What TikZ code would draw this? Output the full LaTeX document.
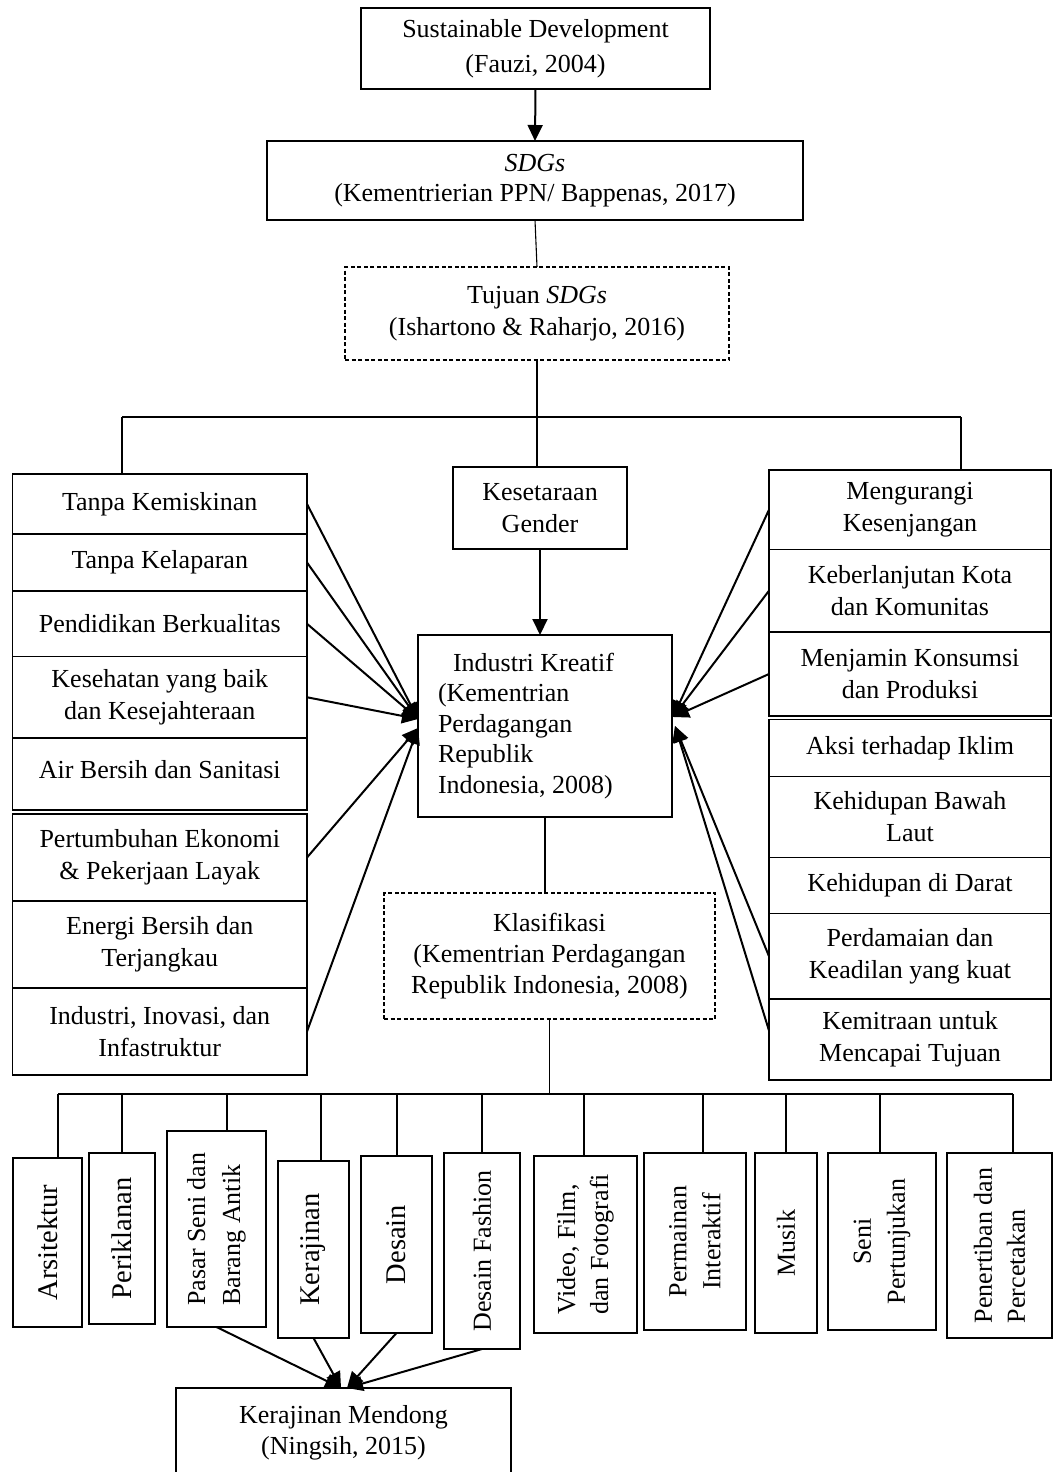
\documentclass[tikz,border=0pt]{standalone}
\usepackage{fontspec}
\setmainfont{Liberation Serif}
\usetikzlibrary{arrows.meta,calc}
\begin{document}
\begin{tikzpicture}[x=1pt,y=-1pt,
  box/.style={draw, line width=1.1pt, inner sep=0pt, outer sep=0pt, align=center,
    font=\fontsize{26}{32}\selectfont},
  dbox/.style={box, dash pattern=on 4pt off 2.5pt},
  vbox/.style={box, rotate=90},
  big/.style={font=\fontsize{28.5}{34}\selectfont},
  conn/.style={line width=1.1pt},
  arr/.style={line width=2pt, -{Triangle[length=16pt,width=15pt]}}]
\useasboundingbox (0,0) rectangle (1053,1472);
\fill[white] (0,0) rectangle (1053,1472);

% top chain
\node[box, minimum width=349pt, minimum height=81pt, font=\fontsize{26}{35}\selectfont] (sd) at (535.5,48.5) {Sustainable Development\\(Fauzi, 2004)};
\node[box, minimum width=536pt, minimum height=79pt, font=\fontsize{26}{30}\selectfont] (sdgs) at (535,180.5) {\textit{SDGs}\\(Kementrierian PPN/ Bappenas, 2017)};
\node[dbox, minimum width=384pt, minimum height=93pt] (tj) at (537,313.5) {Tujuan \textit{SDGs}\\(Ishartono \& Raharjo, 2016)};
\node[box, minimum width=174pt, minimum height=82pt] (kg) at (540,508) {Kesetaraan\\Gender};
\node[box, minimum width=254pt, minimum height=182pt, text width=214pt, inner xsep=20pt, align=flush left, font=\fontsize{26}{30.6}\selectfont] (ik) at (545,726) {\hspace*{15pt}Industri Kreatif\\(Kementrian\\Perdagangan\\Republik\\Indonesia, 2008)};
\node[dbox, minimum width=331pt, minimum height=126pt, font=\fontsize{26}{31}\selectfont] (kl) at (549.5,956) {Klasifikasi\\(Kementrian Perdagangan\\Republik Indonesia, 2008)};

% left column
\node[box, minimum width=294.5pt, minimum height=60pt] (l1) at (159.75,504) {Tanpa Kemiskinan};
\node[box, minimum width=294.5pt, minimum height=57pt] (l2) at (159.75,562.5) {Tanpa Kelaparan};
\node[box, minimum width=294.5pt, minimum height=65.5pt] (l3) at (159.75,623.75) {Pendidikan Berkualitas};
\node[box, minimum width=294.5pt, minimum height=81.5pt] (l4) at (159.75,697.25) {Kesehatan yang baik\\dan Kesejahteraan};
\node[box, minimum width=294.5pt, minimum height=72pt] (l5) at (159.75,774) {\raisebox{9pt}{Air Bersih dan Sanitasi}};
\node[box, minimum width=294.5pt, minimum height=87pt] (l6) at (159.75,857.5) {Pertumbuhan Ekonomi\\\& Pekerjaan Layak};
\node[box, minimum width=294.5pt, minimum height=87pt] (l7) at (159.75,944.5) {Energi Bersih dan\\Terjangkau};
\node[box, minimum width=294.5pt, minimum height=87pt] (l8) at (159.75,1031.5) {Industri, Inovasi, dan\\Infastruktur};

% right column
\node[box, minimum width=282pt, minimum height=79.5pt] (r1) at (910,509.7) {Mengurangi\\Kesenjangan};
\node[box, minimum width=282pt, minimum height=82.6pt] (r2) at (910,590.7) {Keberlanjutan Kota\\dan Komunitas};
\node[box, minimum width=282pt, minimum height=84pt] (r3) at (910,674) {Menjamin Konsumsi\\dan Produksi};
\node[box, minimum width=282pt, minimum height=56.5pt] (r4) at (910,748) {Aksi terhadap Iklim};
\node[box, minimum width=282pt, minimum height=81pt] (r5) at (910,816.9) {Kehidupan Bawah\\Laut};
\node[box, minimum width=282pt, minimum height=56pt] (r6) at (910,885.5) {Kehidupan di Darat};
\node[box, minimum width=282pt, minimum height=85.5pt] (r7) at (910,956.3) {Perdamaian dan\\Keadilan yang kuat};
\node[box, minimum width=282pt, minimum height=81pt] (r8) at (910,1039.5) {Kemitraan untuk\\Mencapai Tujuan};

% bottom vertical boxes (minimum width = visual height)
\node[vbox, big, minimum width=169pt, minimum height=69pt] (b1) at (47.5,1242.5) {Arsitektur};
\node[vbox, big, minimum width=171pt, minimum height=66pt] (b2) at (122,1238.5) {Periklanan};
\node[vbox, align=left, minimum width=196pt, minimum height=99pt, font=\fontsize{26}{35}\selectfont] (b3) at (216.5,1229) {Pasar Seni dan\\Barang Antik};
\node[vbox, big, minimum width=177pt, minimum height=71pt] (b4) at (313.5,1249.5) {Kerajinan};
\node[vbox, big, minimum width=177pt, minimum height=71pt] (b5) at (396.5,1244.5) {Desain};
\node[vbox, minimum width=196pt, minimum height=76pt] (b6) at (482,1251) {Desain Fashion};
\node[vbox, align=left, minimum width=177pt, minimum height=103pt, font=\fontsize{26}{33}\selectfont] (b7) at (585.5,1244.5) {Video, Film,\\dan Fotografi};
\node[vbox, minimum width=177pt, minimum height=102pt, font=\fontsize{26}{34}\selectfont] (b8) at (695,1241.5) {Permainan\\Interaktif};
\node[vbox, minimum width=180pt, minimum height=62pt] (b9) at (786,1243) {Musik};
\node[vbox, minimum width=177pt, minimum height=108pt, font=\fontsize{26}{34}\selectfont] (b10) at (882,1241.5) {Seni\\Pertunjukan};
\node[vbox, align=left, minimum width=185pt, minimum height=105pt, font=\fontsize{26}{33}\selectfont] (b11) at (999.5,1245.5) {Penertiban dan\\Percetakan};

\node[box, minimum width=335pt, minimum height=89pt, font=\fontsize{26}{31}\selectfont] (md) at (343.5,1432.5) {Kerajinan Mendong\\(Ningsih, 2015)};

% coordinates
\coordinate (tbL) at (122,417);
\coordinate (tbR) at (961,417);
\coordinate (tipLa) at (418,719);
\coordinate (tipLb) at (418,728);
\coordinate (tipRa) at (673,717);
\coordinate (tipRb) at (675,726);
\coordinate (r8s) at (769,1030.6);
\coordinate (tipBa) at (341,1388);
\coordinate (tipBb) at (347,1388);
\foreach \n/\x in {1/58,2/122,3/227,4/321,5/397,6/482,7/584,8/703,9/786,10/880,11/1013}
  \coordinate (bb\n) at (\x,1094);

% top connectors
\draw[arr] (sd.south) -- (sdgs.north);
\draw[conn] (sdgs.south) -- (tj.north);
\draw[conn] (tj.south) -- (tj.south |- kg.north);
\draw[conn] (tbL) -- (tbR);
\draw[conn] (tbL) -- (tbL |- l1.north);
\draw[conn] (tbR) -- (tbR |- r1.north);
\draw[arr] (kg.south) -- (kg.south |- ik.north);
\draw[conn] (ik.south) -- (ik.south |- kl.north);

% left arrows
\foreach \b in {l1,l2,l3,l4} \draw[arr] (\b.east) -- (tipLa);
\foreach \b in {l6,l8} \draw[arr] (\b.east) -- (tipLb);
% right arrows
\foreach \b in {r1,r2,r3} \draw[arr] (\b.west) -- (tipRa);
\draw[arr] (r7.west) -- (tipRb);
\draw[arr] (r8s) -- (tipRb);

% bottom bus
\draw[conn] (kl.south) -- (kl.south |- bb1);
\draw[conn] (bb1) -- (bb11);
\foreach \n in {1,...,11} \draw[conn] (bb\n) -- (bb\n |- b\n.east);

% bottom arrows
\draw[arr] (b3.west) -- (tipBa);
\draw[arr] (b4.west) -- (tipBa);
\draw[arr] (b5.west) -- (tipBb);
\draw[arr] (b6.west) -- (tipBb);
\end{tikzpicture}
\end{document}
